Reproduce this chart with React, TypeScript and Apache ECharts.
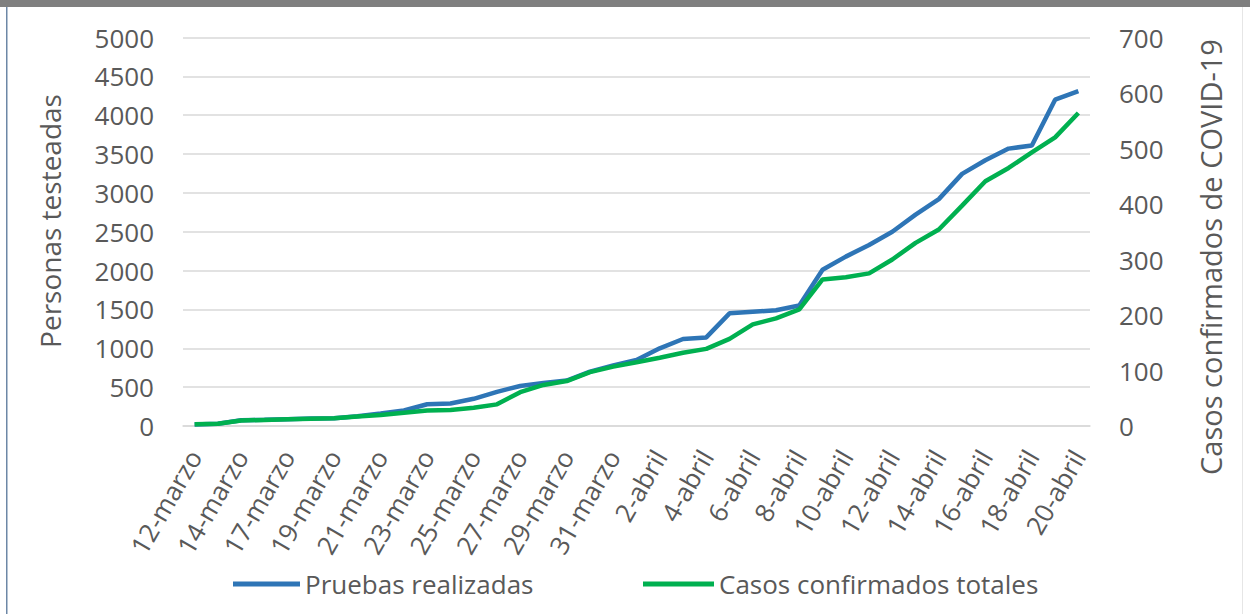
import React, { useEffect, useRef } from "react";
import * as echarts from "echarts";

const categories = [
  "12-marzo", "13-marzo", "14-marzo", "16-marzo", "17-marzo", "18-marzo", "19-marzo",
  "20-marzo", "21-marzo", "22-marzo", "23-marzo", "24-marzo", "25-marzo", "26-marzo",
  "27-marzo", "28-marzo", "29-marzo", "30-marzo", "31-marzo", "1-abril", "2-abril",
  "3-abril", "4-abril", "5-abril", "6-abril", "7-abril", "8-abril", "9-abril",
  "10-abril", "11-abril", "12-abril", "13-abril", "14-abril", "15-abril", "16-abril",
  "17-abril", "18-abril", "19-abril", "20-abril",
];

const pruebasRealizadas = [
  20, 30, 75, 80, 88, 95, 100, 125, 160, 200, 280, 290, 350, 440, 515, 555, 585, 700,
  780, 850, 1000, 1120, 1140, 1450, 1470, 1490, 1550, 2010, 2180, 2330, 2500, 2720,
  2920, 3245, 3420, 3570, 3610, 4200, 4310,
];

const casosConfirmados = [
  3, 4, 10, 11, 12, 13, 14, 17, 20, 24, 28, 29, 33, 39, 61, 74, 81, 97, 107, 115, 123,
  132, 139, 157, 183, 194, 210, 264, 268, 275, 300, 330, 354, 397, 441, 465, 493, 520, 564,
];

const leftAxisName = "Personas testeadas";
const rightAxisName = "Casos confirmados de COVID-19";
const seriesNames = ["Pruebas realizadas", "Casos confirmados totales"];

const FONT = "'Open Sans', 'DejaVu Sans', sans-serif";
const TEXT = "#595959";

export default function App() {
  const ref = useRef<HTMLDivElement>(null);

  useEffect(() => {
    if (!ref.current) return;
    const chart = echarts.init(ref.current, null, { renderer: "svg" });
    const legendCommon = {
      top: 566,
      icon: "rect",
      itemHeight: 5,
      textStyle: { fontSize: 26, color: TEXT, fontFamily: FONT },
    };
    chart.setOption({
      animation: false,
      backgroundColor: "#ffffff",
      textStyle: { fontFamily: FONT },
      graphic: [
        { type: "rect", shape: { x: 0, y: 0, width: 1250, height: 7 }, style: { fill: "#7f7f7f" } },
        { type: "rect", shape: { x: 6, y: 7, width: 1.5, height: 607 }, style: { fill: "#6d87a6" } },
        { type: "rect", shape: { x: 1242, y: 7, width: 1, height: 607 }, style: { fill: "#e6e6e6" } },
        {
          type: "text",
          x: 50,
          y: 221,
          rotation: Math.PI / 2,
          style: {
            text: leftAxisName,
            font: `28px ${FONT}`,
            fill: TEXT,
            textAlign: "center",
            textVerticalAlign: "middle",
          },
        },
        {
          type: "text",
          x: 1210,
          y: 257,
          rotation: Math.PI / 2,
          style: {
            text: rightAxisName,
            font: `29px ${FONT}`,
            fill: TEXT,
            textAlign: "center",
            textVerticalAlign: "middle",
          },
        },
      ],
      grid: { left: 183, right: 160, top: 37.5, bottom: 188, containLabel: false },
      legend: [
        { ...legendCommon, left: 228, itemWidth: 67, data: [seriesNames[0]] },
        { ...legendCommon, left: 638, itemWidth: 71, data: [seriesNames[1]] },
      ],
      xAxis: {
        type: "category",
        data: categories,
        boundaryGap: true,
        axisLine: { show: true, lineStyle: { color: "#d9d9d9", width: 1.5 } },
        axisTick: { show: false },
        axisLabel: {
          interval: 1,
          rotate: 60,
          margin: 26,
          fontSize: 26,
          color: TEXT,
          fontFamily: FONT,
        },
      },
      yAxis: [
        {
          type: "value",
          min: 0,
          max: 5000,
          interval: 500,
          axisLine: { show: false },
          axisTick: { show: false },
          splitLine: { lineStyle: { color: "#d9d9d9", width: 1.5 } },
          axisLabel: {
            fontSize: 26,
            color: TEXT,
            margin: 29,
            fontFamily: FONT,
            formatter: (v: number) => String(v),
          },
        },
        {
          type: "value",
          min: 0,
          max: 700,
          interval: 100,
          position: "right",
          axisLine: { show: false },
          axisTick: { show: false },
          splitLine: { show: false },
          axisLabel: {
            fontSize: 26,
            color: TEXT,
            margin: 29,
            fontFamily: FONT,
            formatter: (v: number) => String(v),
          },
        },
      ],
      series: [
        {
          name: seriesNames[0],
          type: "line",
          yAxisIndex: 0,
          data: pruebasRealizadas,
          symbol: "none",
          lineStyle: { color: "#2e75b6", width: 4.5 },
          itemStyle: { color: "#2e75b6" },
          z: 2,
        },
        {
          name: seriesNames[1],
          type: "line",
          yAxisIndex: 1,
          data: casosConfirmados,
          symbol: "none",
          lineStyle: { color: "#00b050", width: 4.5 },
          itemStyle: { color: "#00b050" },
          z: 3,
        },
      ],
    });
    return () => chart.dispose();
  }, []);

  return (
    <div
      ref={ref}
      style={{ position: "absolute", left: 0, top: 0, width: 1250, height: 614 }}
    />
  );
}
